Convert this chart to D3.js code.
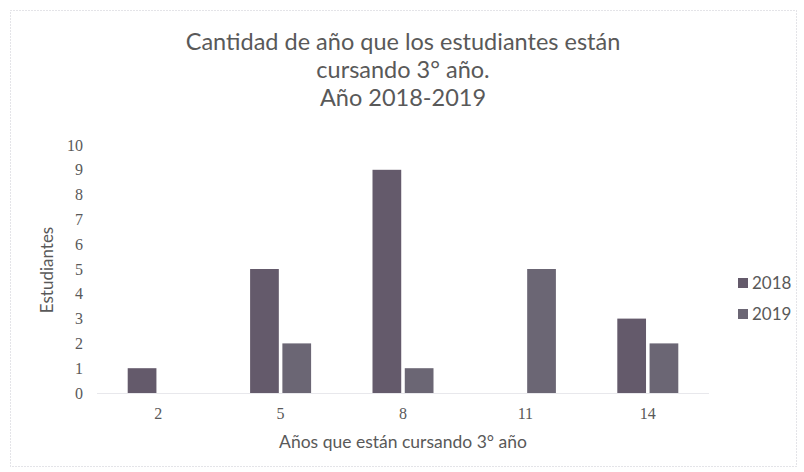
<!DOCTYPE html>
<html>
<head>
<meta charset="utf-8">
<script src="https://cdn.jsdelivr.net/npm/d3@7"></script>
<style>
  body { margin: 0; background: #fff; }
  text { font-family: Lato, "Open Sans", sans-serif; fill: #595959; }
  .tick text { font-family: "Liberation Serif", serif; fill: #595959; }
</style>
</head>
<body>
<svg id="chart" width="804" height="472"></svg>
<script>
  // data
  var categories = ["2", "5", "8", "11", "14"];
  var seriesNames = ["2018", "2019"];
  var values2018 = [1, 5, 9, 0, 3];
  var values2019 = [0, 2, 1, 5, 2];
  var yTicks = [0, 1, 2, 3, 4, 5, 6, 7, 8, 9, 10];
  var colors = ["#645a6b", "#6b6674"];

  var svg = d3.select("#chart"),
      margin = { left: 97, right: 95, top: 145, bottom: 79 },
      width = 804 - margin.left - margin.right,
      height = 472 - margin.top - margin.bottom;

  var series = [values2018, values2019];

  // chart border
  svg.append("rect")
    .attr("x", 10.5).attr("y", 10.5)
    .attr("width", 786).attr("height", 456)
    .attr("fill", "none")
    .attr("stroke", "#c8c8d0")
    .attr("stroke-dasharray", "1,2");

  var x = d3.scaleBand().domain(categories).range([0, width]),
      inner = d3.scaleBand().domain(seriesNames).range([0, 61]).paddingInner(0.11),
      y = d3.scaleLinear().domain([0, 10]).range([height, 0]);

  var g = svg.append("g").attr("transform", "translate(" + margin.left + "," + margin.top + ")");

  // y axis (no line)
  var yAxis = g.append("g")
    .call(d3.axisLeft(y).tickValues(yTicks).tickSize(0).tickPadding(14));
  yAxis.select(".domain").remove();
  yAxis.selectAll("text").style("font-size", "16px");

  // bars
  var groups = g.selectAll(".grp")
    .data(categories)
    .enter()
      .append("g")
      .attr("class", "grp")
      .attr("transform", function(d) { return "translate(" + (x(d) + x.bandwidth() / 2 - 30.5) + ",0)"; });

  groups.selectAll("rect")
    .data(function(d, i) { return seriesNames.map(function(s, j) { return { s: s, v: series[j][i], j: j }; }); })
    .enter()
      .append("rect")
      .filter(function(d) { return d.v > 0; })
      .attr("x", function(d) { return inner(d.s); })
      .attr("width", inner.bandwidth())
      .attr("y", function(d) { return y(d.v); })
      .attr("height", function(d) { return height - y(d.v); })
      .attr("fill", function(d) { return colors[d.j]; });

  // x axis
  var xAxis = g.append("g")
    .attr("transform", "translate(0," + height + ")")
    .call(d3.axisBottom(x).tickSize(0).tickPadding(15));
  xAxis.select(".domain").attr("stroke", "#d0d0d8").attr("stroke-dasharray", "1,1");
  xAxis.selectAll("text").style("font-size", "16px");

  // title
  var title = ["Cantidad de año que los estudiantes están", "cursando 3° año.", "Año 2018-2019"];
  svg.append("text")
    .attr("text-anchor", "middle")
    .style("font-size", "23.5px")
    .selectAll("tspan")
    .data(title)
    .enter()
      .append("tspan")
      .attr("x", 403)
      .attr("y", function(d, i) { return 50 + i * 28; })
      .text(function(d) { return d; });

  // axis titles
  svg.append("text")
    .attr("text-anchor", "middle")
    .attr("x", 403).attr("y", 448)
    .style("font-size", "17.5px")
    .text("Años que están cursando 3° año");

  svg.append("text")
    .attr("text-anchor", "middle")
    .attr("transform", "translate(53,270) rotate(-90)")
    .style("font-size", "17px")
    .text("Estudiantes");

  // legend
  var legend = svg.append("g")
    .selectAll("g")
    .data(seriesNames)
    .enter()
      .append("g")
      .attr("transform", function(d, i) { return "translate(738," + (283 + i * 31) + ")"; });

  legend.append("rect")
    .attr("x", 0).attr("y", -5)
    .attr("width", 10).attr("height", 10)
    .attr("fill", function(d, i) { return colors[i]; });

  legend.append("text")
    .attr("x", 14).attr("dy", "0.35em")
    .style("font-size", "17px")
    .text(function(d) { return d; });
</script>
</body>
</html>
